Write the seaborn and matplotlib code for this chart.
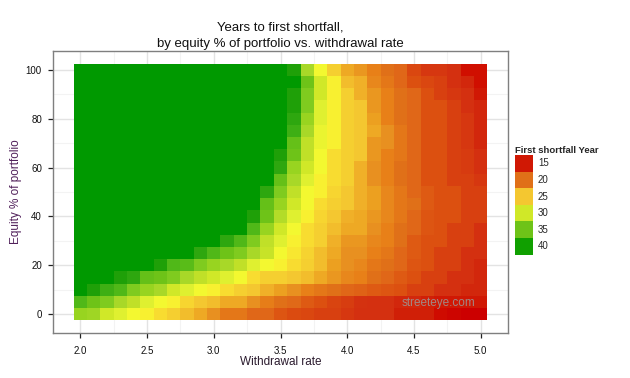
import matplotlib
matplotlib.use("Agg")
import matplotlib.pyplot as plt
import numpy as np
import pandas as pd
import seaborn as sns
from matplotlib.colors import LinearSegmentedColormap
from matplotlib.patches import Patch

# ---------------- data ----------------
withdrawal_rate = [2.0, 2.1, 2.2, 2.3, 2.4, 2.5, 2.6, 2.7, 2.8, 2.9, 3.0,
                   3.1, 3.2, 3.3, 3.4, 3.5, 3.6, 3.7, 3.8, 3.9, 4.0,
                   4.1, 4.2, 4.3, 4.4, 4.5, 4.6, 4.7, 4.8, 4.9, 5.0]
equity_pct = [0, 5, 10, 15, 20, 25, 30, 35, 40, 45, 50,
              55, 60, 65, 70, 75, 80, 85, 90, 95, 100]

# years to first shortfall (41 = no shortfall within horizon), one list per equity %
eq_0 = [33, 32.5, 30, 29, 28, 27.5, 26.5, 25.5, 24.5, 23.5, 22, 20.5,
        20.5, 19.5, 19.5, 18.7, 18.2, 18, 17.5, 17.5, 17, 16.5, 16.5, 16.5, 15.5, 15.5, 15.5, 14, 13.5, 13, 13]
eq_5 = [36.5, 35, 34, 32, 31, 29, 28, 27.5, 26, 25, 24.5, 23.5,
        23.5, 22, 20.8, 20, 19.6, 19, 18.5, 17.8, 17.3, 16.7, 16.5, 16.5, 16, 16, 15.5, 15, 15, 15, 15]
eq_10 = [41, 38.5, 37, 36.5, 34, 33, 32, 30, 29, 28, 27.5, 26.5,
         25.5, 25, 24, 23, 22, 21, 20.5, 20, 19.5, 19.3, 19, 18.7, 18.5, 17.5, 17.5, 16.5, 16.5, 16, 16]
eq_15 = [41, 41, 41, 38.5, 37.5, 35.5, 35, 34, 32, 31, 30, 29,
         28, 26.5, 25.5, 25.5, 25, 24.5, 23.5, 22.5, 21.5, 21, 20, 19.5, 19, 18.5, 17.5, 17.5, 16.5, 16.5, 16]
eq_20 = [41, 41, 41, 41, 41, 41, 38.5, 36.5, 36, 34, 33, 32,
         31, 29, 28, 27.5, 26.5, 25.5, 24.5, 23, 22, 21.5, 20.5, 20, 19.5, 18.7, 18.5, 17.5, 17.5, 16.5, 16]
eq_25 = [41, 41, 41, 41, 41, 41, 41, 41, 41, 37.5, 36.5, 35,
         34, 32, 30.5, 28, 27, 25.8, 24.5, 23.5, 22, 22, 21, 20.5, 19.5, 19, 18.5, 17.5, 17.5, 16.5, 16.5]
eq_30 = [41, 41, 41, 41, 41, 41, 41, 41, 41, 41, 41, 37.5,
         36.5, 34, 31, 29, 27.5, 26.5, 25.5, 24, 22.5, 22.5, 21.5, 21, 20, 19, 18.5, 18.5, 17.5, 17.5, 16.5]
eq_35 = [41, 41, 41, 41, 41, 41, 41, 41, 41, 41, 41, 41, 41,
         36.5, 33, 30, 28, 26.5, 25.5, 24.5, 23.5, 23.5, 22, 21, 20, 19.5, 18.7, 18.5, 17.5, 17.5, 16.5]
eq_40 = [41, 41, 41, 41, 41, 41, 41, 41, 41, 41, 41, 41, 41,
         38.5, 35, 31.5, 29, 27.5, 26, 25, 24, 23.5, 22.5, 21.5, 20.5, 19.5, 18.7, 18.5, 18.5, 17.5, 17.5]
eq_45 = [41, 41, 41, 41, 41, 41, 41, 41, 41, 41, 41, 41, 41, 41,
         35.5, 33, 30, 28, 26.5, 25.5, 25, 24, 23, 21.5, 20.5, 20, 19, 18.5, 18.5, 17.5, 17.5]
eq_50 = [41, 41, 41, 41, 41, 41, 41, 41, 41, 41, 41, 41, 41, 41,
         37.5, 34, 31, 28, 27.5, 26, 25, 24, 23, 21.5, 20.5, 19.5, 19, 18.5, 18.5, 17.5, 17.5]
eq_55 = [41, 41, 41, 41, 41, 41, 41, 41, 41, 41, 41, 41, 41, 41, 41,
         35.5, 32, 29, 27.5, 26.5, 25.5, 24, 22, 21, 20, 19.5, 18.5, 18.5, 17.5, 17.5, 17]
eq_60 = [41, 41, 41, 41, 41, 41, 41, 41, 41, 41, 41, 41, 41, 41, 41,
         37.5, 33, 30, 28, 26.5, 25.5, 24, 22, 21, 20, 19.5, 18.5, 18.5, 17.5, 17.2, 16.5]
eq_65 = [41, 41, 41, 41, 41, 41, 41, 41, 41, 41, 41, 41, 41, 41, 41,
         38.5, 35, 31, 28, 26.5, 25.5, 25, 22.5, 21, 20.5, 19.5, 18.5, 18.5, 17.5, 17.2, 16.5]
eq_70 = [41, 41, 41, 41, 41, 41, 41, 41, 41, 41, 41, 41, 41, 41, 41, 41,
         35.5, 31, 28.5, 27.5, 25.5, 25, 22.5, 22, 20.5, 19.5, 18.5, 18.5, 17.5, 17, 16]
eq_75 = [41, 41, 41, 41, 41, 41, 41, 41, 41, 41, 41, 41, 41, 41, 41, 41,
         37, 32, 28.5, 27.5, 25.5, 25, 23.5, 22, 20.5, 19.5, 18.5, 18.5, 17.5, 17, 16]
eq_80 = [41, 41, 41, 41, 41, 41, 41, 41, 41, 41, 41, 41, 41, 41, 41, 41,
         37.5, 33, 29, 27.5, 25.5, 25, 23, 21, 20, 19.5, 18.5, 18.5, 17.5, 17, 16]
eq_85 = [41, 41, 41, 41, 41, 41, 41, 41, 41, 41, 41, 41, 41, 41, 41, 41,
         38.5, 34, 29, 27.5, 25.5, 25, 22.5, 21, 20, 19.5, 18.5, 18.5, 17.5, 16.5, 16]
eq_90 = [41, 41, 41, 41, 41, 41, 41, 41, 41, 41, 41, 41, 41, 41, 41, 41,
         38.5, 34, 30, 27.5, 25.5, 24, 22.5, 21, 20, 19.5, 18.5, 17.5, 17, 16.5, 15]
eq_95 = [41, 41, 41, 41, 41, 41, 41, 41, 41, 41, 41, 41, 41, 41, 41, 41, 41,
         35, 30, 27.5, 24.5, 24, 21.5, 20.5, 19.5, 18.5, 18, 17.5, 16.5, 16, 14.5]
eq_100 = [41, 41, 41, 41, 41, 41, 41, 41, 41, 41, 41, 41, 41, 41, 41, 41,
          38.5, 32, 28, 25.5, 23.5, 22.5, 21, 20, 19.5, 18, 17, 17, 16.5, 14.5, 14.5]

rows = [eq_0, eq_5, eq_10, eq_15, eq_20, eq_25, eq_30, eq_35, eq_40, eq_45, eq_50,
        eq_55, eq_60, eq_65, eq_70, eq_75, eq_80, eq_85, eq_90, eq_95, eq_100]

legend_breaks = [15, 20, 25, 30, 35, 40]
x_tick_values = [2.0, 2.5, 3.0, 3.5, 4.0, 4.5, 5.0]
y_tick_values = [0, 20, 40, 60, 80, 100]

# ---------------- colour scale ----------------
vmin, vmax = 13, 41
anchors = [(13, "#CC0000"), (14.5, "#D01000"), (15.5, "#D02008"), (16.5, "#D43010"),
           (17.5, "#D84010"), (18.5, "#DC5010"), (19.5, "#E06818"), (20, "#E07018"),
           (21, "#E88018"), (22, "#E89020"), (23, "#ECA020"), (24, "#F0B028"),
           (25, "#F4C830"), (26.5, "#F8DC30"), (27.5, "#F8F030"), (28, "#F4F830"),
           (29, "#E0F030"), (30, "#D0E828"), (31, "#C0E028"), (32, "#A8D828"),
           (33, "#98D420"), (34, "#80CC20"), (35, "#70C418"), (36.5, "#50B818"),
           (37.5, "#30A810"), (38.5, "#20A008"), (40, "#10A000"), (41, "#009900")]
cmap = LinearSegmentedColormap.from_list(
    "shortfall", [((v - vmin) / (vmax - vmin), c) for v, c in anchors])

df = pd.DataFrame(rows, index=equity_pct, columns=withdrawal_rate).iloc[::-1]

# ---------------- figure ----------------
sns.set_theme(style="white")
plt.rcParams["font.family"] = ["Liberation Sans", "DejaVu Sans"]

fig = plt.figure(figsize=(6.3, 3.78), dpi=100)
ax = fig.add_axes([53 / 630, 45 / 378, 455 / 630, 282 / 378])

sns.heatmap(df, cmap=cmap, vmin=vmin, vmax=vmax, cbar=False, ax=ax,
            xticklabels=False, yticklabels=False, linewidths=0)

ncol, nrow = len(withdrawal_rate), len(equity_pct)
ax.set_xlim(-0.05 * ncol, ncol * 1.05)
ax.set_ylim(nrow * 1.05, -0.05 * nrow)

xpos = [withdrawal_rate.index(v) + 0.5 for v in x_tick_values]
ypos = [nrow - 1 - equity_pct.index(v) + 0.5 for v in y_tick_values]
ax.set_xticks(xpos)
ax.set_xticklabels([f"{v:.1f}" for v in x_tick_values])
ax.set_yticks(ypos)
ax.set_yticklabels([str(v) for v in y_tick_values])
ax.set_xticks([(a + b) / 2 for a, b in zip(xpos[:-1], xpos[1:])], minor=True)
ax.set_yticks([(a + b) / 2 for a, b in zip(ypos[:-1], ypos[1:])], minor=True)

ax.set_axisbelow(True)
ax.grid(True, which="major", color="#E3E3E3", lw=1.0)
ax.grid(True, which="minor", color="#F3F3F3", lw=0.8)
for s in ax.spines.values():
    s.set_visible(True)
    s.set_color("#7F7F7F")
    s.set_linewidth(1.0)

ax.tick_params(axis="both", which="major", direction="out", length=3.5, width=0.9,
               color="#222222", labelsize=7, labelcolor="#111111",
               bottom=True, left=True)
ax.tick_params(axis="x", which="major", pad=6)
ax.tick_params(axis="y", which="major", pad=4.5)
ax.tick_params(axis="both", which="minor", length=0)

ax.set_xlabel("Withdrawal rate", fontsize=8.5, color="#2B1B2E", labelpad=0)
ax.set_ylabel("Equity % of portfolio", fontsize=8.5, color="#50205A", labelpad=3)
ax.set_title("Years to first shortfall,\nby equity % of portfolio vs. withdrawal rate",
             fontsize=9.5, color="#111111", linespacing=1.5, pad=3)

# legend
norm = lambda v: (v - vmin) / (vmax - vmin)
handles = [Patch(facecolor=cmap(norm(b)), edgecolor="none") for b in legend_breaks]
leg = fig.legend(handles, [str(b) for b in legend_breaks],
                 loc="upper left", bbox_to_anchor=(515 / 630, 1 - 146 / 378),
                 frameon=False, fontsize=7, title="First shortfall Year",
                 title_fontproperties={"weight": "bold", "size": 6.8},
                 handlelength=1.85, handleheight=2.25, labelspacing=0,
                 handletextpad=0.5, borderpad=0, borderaxespad=0,
                 alignment="left")

# watermark
fig.text(439 / 630, 1 - 303 / 378, "streeteye.com", fontsize=8.5,
         color="#9A9A9A", alpha=0.85, ha="center", va="center")

fig.savefig("out.png", dpi=100)
